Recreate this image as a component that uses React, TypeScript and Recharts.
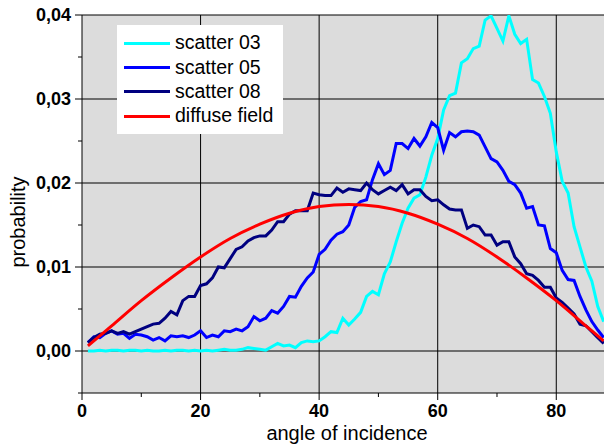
import { LineChart, Line, XAxis, YAxis, CartesianGrid, Label } from 'recharts';

const angles = [
  1, 2, 3, 4, 5, 6, 7, 8, 9, 10, 11, 12, 13, 14, 15, 16, 17, 18, 19, 20, 21, 22,
  23, 24, 25, 26, 27, 28, 29, 30, 31, 32, 33, 34, 35, 36, 37, 38, 39, 40, 41, 42,
  43, 44, 45, 46, 47, 48, 49, 50, 51, 52, 53, 54, 55, 56, 57, 58, 59, 60, 61, 62,
  63, 64, 65, 66, 67, 68, 69, 70, 71, 72, 73, 74, 75, 76, 77, 78, 79, 80, 81, 82,
  83, 84, 85, 86, 87, 88,
];

const scatter03 = [
  0.0, 0.0, 0.0001, 0.0, 0.0001, 0.0001, 0.0, 0.0001, 0.0001, 0.0, 0.0001, 0.0,
  0.0, 0.0001, 0.0, 0.0001, 0.0001, 0.0, 0.0001, 0.0, 0.0001, 0.0, 0.0001, 0.0002,
  0.0001, 0.0001, 0.0002, 0.0004, 0.0003, 0.0002, 0.0001, 0.0005, 0.0009, 0.0006,
  0.0007, 0.0004, 0.001, 0.0012, 0.0011, 0.0012, 0.0017, 0.0023, 0.0022, 0.0039,
  0.0031, 0.0038, 0.0046, 0.0065, 0.0071, 0.0067, 0.0092, 0.0106, 0.013, 0.0152,
  0.017, 0.0182, 0.0186, 0.0207, 0.0233, 0.0253, 0.0287, 0.0304, 0.0307, 0.0343,
  0.0348, 0.036, 0.0363, 0.0394, 0.0399, 0.0384, 0.0369, 0.0399, 0.0377, 0.0366,
  0.0371, 0.0323, 0.0319, 0.0303, 0.0283, 0.0237, 0.0202, 0.0188, 0.0148, 0.0124,
  0.01, 0.0083, 0.0053, 0.0035,
];

const scatter05 = [
  0.001, 0.0017, 0.0016, 0.0021, 0.0024, 0.002, 0.0021, 0.0015, 0.002, 0.0019,
  0.0017, 0.0013, 0.0016, 0.0012, 0.0018, 0.0017, 0.0018, 0.0016, 0.0019, 0.0024,
  0.0016, 0.0019, 0.0017, 0.0024, 0.0023, 0.0026, 0.0024, 0.0029, 0.0041, 0.0036,
  0.0039, 0.0048, 0.0045, 0.0053, 0.0065, 0.0064, 0.0077, 0.0087, 0.0094, 0.0115,
  0.0121, 0.0132, 0.0139, 0.0142, 0.015, 0.0171, 0.0178, 0.018, 0.0204, 0.0223,
  0.021, 0.0215, 0.0247, 0.0247, 0.0241, 0.0253, 0.0244, 0.0255, 0.0272, 0.0266,
  0.0239, 0.026, 0.0255, 0.0261, 0.0262, 0.0261, 0.0257, 0.0243, 0.0229, 0.0225,
  0.0215, 0.0202, 0.0198, 0.0188, 0.017, 0.0172, 0.015, 0.0149, 0.0122, 0.0117,
  0.0096, 0.0085, 0.0084, 0.0065, 0.0049, 0.0035, 0.0025, 0.0016,
];

const scatter08 = [
  0.001, 0.0016, 0.002, 0.0021, 0.0024, 0.0021, 0.0023, 0.002, 0.0023, 0.0026,
  0.0029, 0.0032, 0.0033, 0.0039, 0.0047, 0.0043, 0.006, 0.0065, 0.0065, 0.0078,
  0.008, 0.0087, 0.01, 0.0099, 0.011, 0.0121, 0.0124, 0.0131, 0.0135, 0.0137,
  0.0137, 0.0144, 0.0154, 0.0154, 0.0163, 0.0167, 0.0167, 0.0167, 0.0188, 0.0186,
  0.0185, 0.0185, 0.0194, 0.0189, 0.0193, 0.0192, 0.0191, 0.02, 0.0192, 0.0187,
  0.0191, 0.0195, 0.0191, 0.0198, 0.0187, 0.0192, 0.0192, 0.0184, 0.0179, 0.018,
  0.0174, 0.0169, 0.0168, 0.0168, 0.0146, 0.015, 0.0148, 0.0138, 0.0138, 0.0126,
  0.013, 0.013, 0.0112, 0.0104, 0.0092, 0.009, 0.0084, 0.0076, 0.0076, 0.0063,
  0.0058, 0.0051, 0.0044, 0.0032, 0.003, 0.0023, 0.0016, 0.0009,
];

const diffuseAngles = [1, 5, 10, 15, 20, 25, 30, 35, 40, 45, 50, 55, 60, 65, 70, 75, 80, 85, 88];
const diffuseField = [
  0.0006, 0.003, 0.006, 0.0087, 0.0112, 0.0134, 0.0151, 0.0164, 0.0172, 0.01745,
  0.0172, 0.0164, 0.0151, 0.0134, 0.0112, 0.0087, 0.006, 0.003, 0.0012,
];

const xTicks = [0, 10, 20, 30, 40, 50, 60, 70, 80];
const yTicks = [-0.005, 0, 0.005, 0.01, 0.015, 0.02, 0.025, 0.03, 0.035, 0.04];
const yGrid = [0, 0.01, 0.02, 0.03, 0.04];
const xGrid = [20, 40, 60, 80];

const series = [
  { name: 'scatter 03', color: '#00FFFF', values: scatter03, xs: angles },
  { name: 'scatter 05', color: '#0000FF', values: scatter05, xs: angles },
  { name: 'scatter 08', color: '#000080', values: scatter08, xs: angles },
  { name: 'diffuse field', color: '#FF0000', values: diffuseField, xs: diffuseAngles },
];

const font = '"Liberation Sans", Arial, sans-serif';

const YTick = ({ x, y, payload }: any) => {
  const major = Math.round(payload.value * 1000) % 10 === 0;
  return (
    <g>
      <line x1={x - (major ? 7 : 4)} x2={x} y1={y} y2={y} stroke="#000" strokeWidth={1} />
      {major && (
        <text x={x - 11} y={y} dy="0.36em" textAnchor="end" fontSize={18} fontWeight="bold" fill="#000">
          {payload.value.toFixed(2).replace('.', ',')}
        </text>
      )}
    </g>
  );
};

const XTick = ({ x, y, payload }: any) => {
  const major = payload.value % 20 === 0;
  return (
    <g>
      <line x1={x} x2={x} y1={y} y2={y + (major ? 7 : 4)} stroke="#000" strokeWidth={1} />
      {major && (
        <text x={x} y={y + 24} textAnchor="middle" fontSize={18} fontWeight="bold" fill="#000">
          {payload.value}
        </text>
      )}
    </g>
  );
};

export default function App() {
  return (
    <div
      style={{
        position: 'relative',
        width: 612,
        height: 445,
        margin: '-8px 0 0 -8px',
        background: '#fff',
        fontFamily: font,
      }}
    >
      <LineChart width={612} height={445} margin={{ top: 15, right: 0, bottom: 0, left: 0 }}>
        <CartesianGrid
          fill="#DCDCDC"
          stroke="#000"
          strokeWidth={1}
          horizontalValues={yGrid}
          verticalValues={xGrid}
        />
        <XAxis
          type="number"
          dataKey="angle"
          domain={[0, 89.4]}
          allowDataOverflow
          ticks={xTicks}
          interval={0}
          height={52}
          tickSize={0}
          tickMargin={0}
          tick={<XTick />}
          axisLine={{ stroke: '#000' }}
          tickLine={false}
        >
          <Label
            content={({ viewBox }: any) => (
              <text
                x={viewBox.x + viewBox.width / 2}
                y={viewBox.y + viewBox.height - 5}
                textAnchor="middle"
                fontSize={20}
                fill="#000"
              >
                angle of incidence
              </text>
            )}
          />
        </XAxis>
        <YAxis
          type="number"
          domain={[-0.005, 0.04]}
          allowDataOverflow
          ticks={yTicks}
          interval={0}
          width={82}
          tickSize={0}
          tickMargin={0}
          tick={<YTick />}
          axisLine={{ stroke: '#000' }}
          tickLine={false}
        >
          <Label
            content={() => (
              <text
                x={25}
                y={222}
                transform="rotate(-90 25 222)"
                textAnchor="middle"
                fontSize={20}
                fill="#000"
              >
                probability
              </text>
            )}
          />
        </YAxis>
        {series.map((s) => (
          <Line
            key={s.name}
            name={s.name}
            data={s.xs.map((a, i) => ({ angle: a, p: s.values[i] }))}
            dataKey="p"
            type={s.name === 'diffuse field' ? 'monotone' : 'linear'}
            stroke={s.color}
            strokeWidth={3}
            dot={false}
            activeDot={false}
            isAnimationActive={false}
          />
        ))}
      </LineChart>
      <div
        style={{
          position: 'absolute',
          left: 117,
          top: 25,
          width: 166,
          height: 109,
          background: '#fff',
          boxSizing: 'border-box',
          paddingTop: 6,
        }}
      >
        {series.map((s) => (
          <div key={s.name} style={{ height: 24.3, display: 'flex', alignItems: 'center' }}>
            <div style={{ marginLeft: 7, width: 46, height: 3, background: s.color }} />
            <span style={{ marginLeft: 5, fontSize: 19.5, color: '#000', lineHeight: 1 }}>{s.name}</span>
          </div>
        ))}
      </div>
    </div>
  );
}
